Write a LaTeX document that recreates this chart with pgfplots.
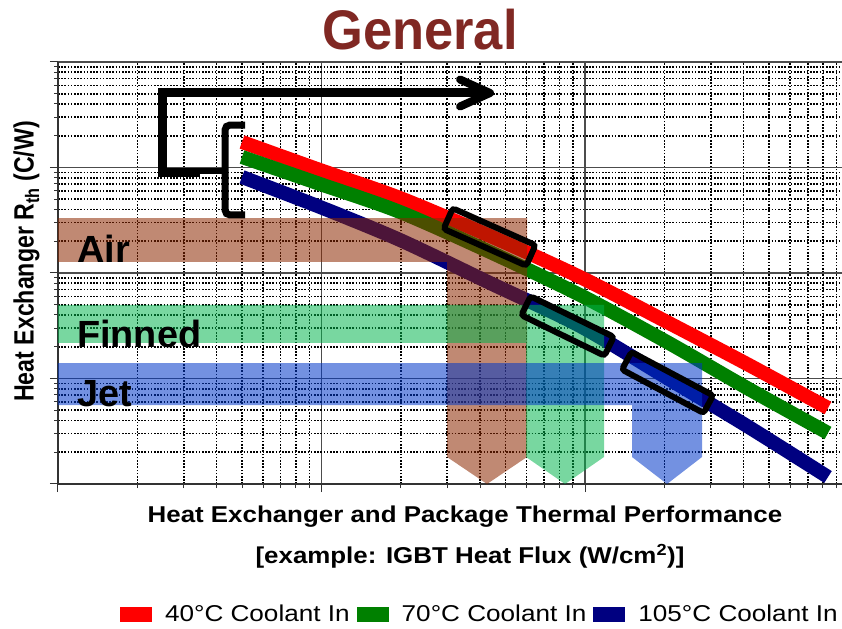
\documentclass[border=0pt]{standalone}
\usepackage{fontspec}
\setmainfont{Liberation Sans}
\usepackage{graphicx}
\usepackage{pgfplots}
\pgfplotsset{compat=1.18}
\definecolor{titlered}{RGB}{128,40,35}
\definecolor{airband}{RGB}{140,40,0}
\definecolor{finband}{RGB}{0,180,75}
\definecolor{jetband}{RGB}{0,55,200}
\definecolor{navyline}{RGB}{0,0,128}
\definecolor{greenline}{RGB}{0,128,0}
\definecolor{redline}{RGB}{255,0,0}

\begin{document}
\begin{tikzpicture}
\useasboundingbox (0,0) rectangle (842bp,629bp);
\begin{axis}[
  at={(58bp,145bp)}, anchor=south west,
  scale only axis, width=784bp, height=422bp,
  xmin=0, xmax=2.9753, ymin=0, ymax=4,
  axis x line*=bottom, axis y line*=left,
  axis line style={black!80, line width=1.6bp},
  xtick={0,1,2}, ytick={0,1,2,3,4},
  xticklabels={}, yticklabels={},
  minor xtick={0.30103,0.47712,0.60206,0.69897,0.77815,0.84510,0.90309,0.95424,1.30103,1.47712,1.60206,1.69897,1.77815,1.84510,1.90309,1.95424,2.30103,2.47712,2.60206,2.69897,2.77815,2.84510,2.90309,2.95424},
  minor ytick={0.30103,0.47712,0.60206,0.69897,0.77815,0.84510,0.90309,0.95424,1.30103,1.47712,1.60206,1.69897,1.77815,1.84510,1.90309,1.95424,2.30103,2.47712,2.60206,2.69897,2.77815,2.84510,2.90309,2.95424,3.30103,3.47712,3.60206,3.69897,3.77815,3.84510,3.90309,3.95424},
  grid=both,
  major grid style={black!70, line width=1.5bp},
  minor grid style={black, line width=1.6bp, dash pattern=on 1.6bp off 1.6bp},
  tick align=outside,
  major tick length=8bp, minor tick length=4bp,
  tick style={black!80, line width=1bp},
  legend columns=3,
  legend style={at={(0.0791,-0.3081)}, anchor=west, draw=none, fill=none,
    inner sep=0pt, outer sep=0pt, font=\fontsize{23}{27}\selectfont,
    nodes={inner sep=0pt},
    /tikz/every odd column/.append style={column sep=13bp},
    /tikz/every even column/.append style={column sep=7bp}},
  legend image code/.code={\fill[#1, draw=none] (0bp,-7.5bp) rectangle (32bp,7.5bp);},
]
% coolant curves (x, y in decades of the log-log grid)
\addplot[color=redline, line width=14bp, smooth] coordinates {
 (0.6983,3.2417) (0.9943,2.9763) (1.2979,2.7109) (1.6395,2.3507) (1.9810,1.9621) (2.3112,1.5355) (2.6148,1.1374) (2.9222,0.7204)};
\addlegendentry{\scalebox{1.14}[1]{40°C Coolant In}}
\addplot[color=greenline, line width=14bp, smooth] coordinates {
 (0.6983,3.0995) (0.9943,2.8436) (1.2979,2.5782) (1.6395,2.1991) (1.9810,1.7915) (2.3112,1.3460) (2.6148,0.9100) (2.9222,0.4834)};
\addlegendentry{\scalebox{1.14}[1]{70°C Coolant In}}
\addplot[color=navyline, line width=14bp, smooth] coordinates {
 (0.6983,2.9100) (0.9943,2.6256) (1.2979,2.3128) (1.6395,1.9052) (1.9810,1.4976) (2.3112,1.0047) (2.6148,0.5498) (2.9222,0.0664)};
\addlegendentry{\scalebox{1.14}[1]{105°C Coolant In}}
% bands with arrows
\addplot[fill=airband, fill opacity=0.55, draw=none, forget plot] coordinates {
 (0,2.5213) (1.7799,2.5213) (1.7799,0.2559) (1.6281,0) (1.4763,0.2559) (1.4763,2.1043) (0,2.1043)} -- cycle;
\addplot[fill=finband, fill opacity=0.53, draw=none, forget plot] coordinates {
 (0,1.6967) (2.0721,1.6967) (2.0721,0.2559) (1.9241,0) (1.7761,0.2559) (1.7761,1.3365) (0,1.3365)} -- cycle;
\addplot[fill=jetband, fill opacity=0.55, draw=none, forget plot] coordinates {
 (0,1.1469) (2.4440,1.1469) (2.4440,0.2559) (2.3112,0) (2.1784,0.2559) (2.1784,0.7488) (0,0.7488)} -- cycle;
% band labels
\node[anchor=base west, inner sep=0pt, font=\fontsize{38}{38}\selectfont\bfseries] at (axis cs:0.0721,2.0948) {Air};
\node[anchor=base west, inner sep=0pt, font=\fontsize{38}{38}\selectfont\bfseries] at (axis cs:0.0721,1.2891) {Finned};
\node[anchor=base west, inner sep=0pt, font=\fontsize{38}{38}\selectfont\bfseries] at (axis cs:0.0721,0.7393) {Jet};
% boxes
\node[draw=black, line width=6bp, rounded corners=3bp, minimum width=90.5bp, minimum height=22.5bp, inner sep=0pt, rotate=-24] at (axis cs:1.6376,2.3412) {};
\node[draw=black, line width=6bp, rounded corners=3bp, minimum width=92.5bp, minimum height=21bp, inner sep=0pt, rotate=-26] at (axis cs:1.9336,1.4976) {};
\node[draw=black, line width=6bp, rounded corners=3bp, minimum width=92.5bp, minimum height=20bp, inner sep=0pt, rotate=-28] at (axis cs:2.3131,0.9621) {};
% brackets and arrow
\draw[line width=9bp] (axis cs:0.5389,2.9479) -- (axis cs:0.3947,2.9479) -- (axis cs:0.3947,3.7062) -- (axis cs:1.6300,3.7062);
\draw[line width=8bp, line cap=round, line join=round] (axis cs:1.5256,3.8341) -- (axis cs:1.6395,3.7062) -- (axis cs:1.5256,3.5782);
\draw[line width=6bp] (axis cs:0.5389,2.9668) -- (axis cs:0.6338,2.9668);
\draw[line width=7bp, rounded corners=5bp] (axis cs:0.7097,3.4028) -- (axis cs:0.6338,3.4028) -- (axis cs:0.6338,2.5498) -- (axis cs:0.7097,2.5498);
\end{axis}
% title and axis labels
\node[anchor=base, text=titlered, font=\fontsize{56}{56}\selectfont\bfseries] at (420bp,579bp) {\scalebox{0.94}[1]{General}};
\node[anchor=base, rotate=90, font=\fontsize{28}{28}\selectfont\bfseries] at (33.5bp,367.5bp) {\scalebox{0.83}[1]{Heat Exchanger R\textsubscript{th} (C/W)}};
\node[anchor=base, font=\fontsize{23}{23}\selectfont\bfseries] at (465bp,106bp) {\scalebox{1.13}[1]{Heat Exchanger and Package Thermal Performance}};
\node[anchor=base, font=\fontsize{23}{23}\selectfont\bfseries] at (470bp,65bp) {\scalebox{1.13}[1]{[example: IGBT Heat Flux (W/cm\textsuperscript{2})]}};
\end{tikzpicture}
\end{document}
